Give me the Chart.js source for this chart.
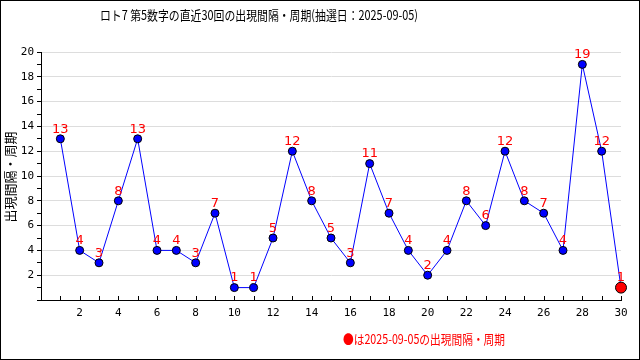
<!DOCTYPE html>
<html>
<head>
<meta charset="utf-8">
<script src="https://cdn.jsdelivr.net/npm/chart.js@4"></script>
<style>
  html, body { margin: 0; padding: 0; background: #fff; }
  #wrap { width: 640px; height: 360px; position: relative; }
</style>
</head>
<body>
<div id="wrap"><canvas id="intervalChart" width="640" height="360"></canvas></div>
<script>
const titleText = "ロト7 第5数字の直近30回の出現間隔・周期(抽選日：2025-09-05)";
const yTitle = "出現間隔・周期";
const noteText = "●は2025-09-05の出現間隔・周期";

const draws = [1, 2, 3, 4, 5, 6, 7, 8, 9, 10, 11, 12, 13, 14, 15, 16, 17, 18, 19, 20, 21, 22, 23, 24, 25, 26, 27, 28, 29, 30];
const intervals = [13, 4, 3, 8, 13, 4, 4, 3, 7, 1, 1, 5, 12, 8, 5, 3, 11, 7, 4, 2, 4, 8, 6, 12, 8, 7, 4, 19, 12, 1];

const font = "'DejaVu Sans Mono', 'Noto Sans CJK JP', monospace";
const jpFont = "'Noto Sans CJK JP', 'DejaVu Sans', sans-serif";

const points = draws.map((d, i) => ({ x: d, y: intervals[i] }));
const last = points.length - 1;

const decor = {
  id: "decor",
  afterDatasetsDraw(chart) {
    const ctx = chart.ctx;
    const meta = chart.getDatasetMeta(0);
    ctx.save();
    ctx.fillStyle = "#ff0000";
    ctx.font = "13px 'DejaVu Sans', sans-serif";
    ctx.textAlign = "center";
    ctx.textBaseline = "bottom";
    meta.data.forEach((p, i) => {
      ctx.fillText(String(intervals[i]), p.x, p.y - 3);
    });
    ctx.restore();
  },
  afterDraw(chart) {
    const ctx = chart.ctx;
    const xs = chart.scales.x;
    const bottom = chart.chartArea.bottom;

    // x tick marks point up into the plot
    ctx.save();
    ctx.strokeStyle = "#000";
    ctx.lineWidth = 1;
    ctx.beginPath();
    for (let v = 1; v <= 30; v++) {
      const px = Math.round(xs.getPixelForValue(v)) + 0.5;
      ctx.moveTo(px, bottom);
      ctx.lineTo(px, bottom - 4);
    }
    ctx.stroke();
    ctx.restore();

    ctx.save();
    ctx.fillStyle = "#000";
    ctx.font = "13px " + jpFont;
    ctx.textAlign = "left";
    ctx.textBaseline = "middle";
    ctx.fillText(titleText, 100, 15, 318);

    ctx.textAlign = "center";
    ctx.translate(10, 177);
    ctx.rotate(-Math.PI / 2);
    ctx.fillText(yTitle, 0, 0, 96);
    ctx.restore();

    ctx.save();
    ctx.fillStyle = "#ff0000";
    ctx.font = "13px " + jpFont;
    ctx.textAlign = "left";
    ctx.textBaseline = "middle";
    ctx.fillText(noteText, 343, 339, 162);
    ctx.restore();

    ctx.save();
    ctx.strokeStyle = "#000";
    ctx.lineWidth = 1;
    ctx.strokeRect(0.5, 0.5, 639, 359);
    ctx.restore();
  }
};

new Chart(document.getElementById("intervalChart"), {
  type: "line",
  data: {
    datasets: [
      {
        data: points,
        borderColor: "#0000ff",
        borderWidth: 1,
        tension: 0,
        clip: false,
        pointRadius: points.map((p, i) => (i === last ? 5.5 : 4)),
        pointBackgroundColor: points.map((p, i) => (i === last ? "#ff0000" : "#0000ff")),
        pointBorderColor: "#000",
        pointBorderWidth: 1,
      },
    ],
  },
  options: {
    responsive: false,
    animation: false,
    events: [],
    layout: { padding: { left: 0, top: 52, right: 19, bottom: 0 } },
    plugins: {
      legend: { display: false },
      title: { display: false },
      tooltip: { enabled: false },
    },
    scales: {
      x: {
        type: "linear",
        min: 0,
        max: 30,
        afterFit(scale) { scale.height = 60; },
        border: { color: "#000", width: 1 },
        grid: {
          drawOnChartArea: false,
          drawTicks: false,
        },
        ticks: {
          stepSize: 1,
          autoSkip: false,
          maxRotation: 0,
          color: "#000",
          font: { family: font, size: 11 },
          padding: 7,
          callback: (v) => (v > 0 && v % 2 === 0 ? v : ""),
        },
      },
      y: {
        min: 0,
        max: 20,
        afterFit(scale) { scale.width = 41; },
        border: { color: "#000", width: 1 },
        grid: {
          color: (c) => (c.tick && c.tick.value > 0 && c.tick.value % 2 === 0 ? "#dddddd" : "rgba(0,0,0,0)"),
          tickColor: "#000",
          tickLength: 4,
        },
        ticks: {
          stepSize: 1,
          autoSkip: false,
          color: "#000",
          font: { family: font, size: 11 },
          padding: 3,
          callback: (v) => (v > 0 && v % 2 === 0 ? v : ""),
        },
      },
    },
  },
  plugins: [decor],
});
</script>
</body>
</html>
